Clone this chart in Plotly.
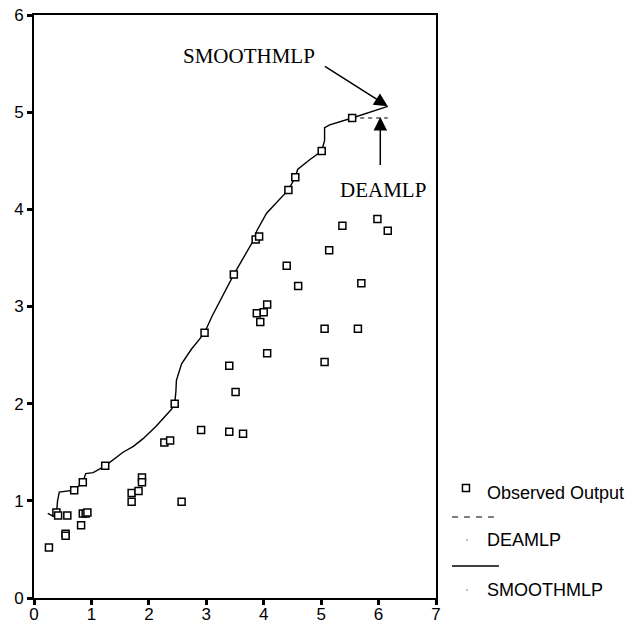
import plotly.graph_objects as go

# Observed output points
obs_x = [0.26, 0.39, 0.42, 0.58, 0.55, 0.55, 0.82, 0.85, 0.90, 0.93, 0.70, 0.85, 1.24,
         1.70, 1.70, 1.82, 1.88, 1.88, 2.27, 2.37, 2.45, 2.57, 2.91, 2.97, 3.40, 3.51,
         3.40, 3.64, 4.06, 3.88, 4.00, 3.94, 4.06, 5.06, 5.06, 5.64, 3.48, 3.86, 3.92,
         4.40, 4.60, 5.14, 5.37, 5.70, 5.98, 6.16, 4.43, 4.55, 5.01, 5.54]
obs_y = [0.52, 0.88, 0.85, 0.85, 0.66, 0.64, 0.75, 0.87, 0.87, 0.88, 1.11, 1.19, 1.36,
         1.08, 0.99, 1.10, 1.24, 1.19, 1.60, 1.62, 2.00, 0.99, 1.73, 2.73, 2.39, 2.12,
         1.71, 1.69, 2.52, 2.93, 2.94, 2.84, 3.02, 2.77, 2.43, 2.77, 3.33, 3.69, 3.72,
         3.42, 3.21, 3.58, 3.83, 3.24, 3.90, 3.78, 4.20, 4.33, 4.60, 4.94]

# SMOOTHMLP frontier
smooth_x = [0.24, 0.34, 0.39, 0.41, 0.44, 0.57, 0.70, 0.85, 0.90, 1.03, 1.24, 1.55, 1.73,
            1.90, 2.13, 2.39, 2.45, 2.47, 2.48, 2.57, 2.74, 2.89, 2.97, 3.10, 3.48, 3.84,
            3.88, 4.05, 4.43, 4.55, 4.59, 4.80, 5.01, 5.06, 5.06, 5.15, 5.54, 6.16]
smooth_y = [0.87, 0.84, 0.86, 1.00, 1.09, 1.10, 1.11, 1.19, 1.28, 1.29, 1.36, 1.50, 1.56,
            1.64, 1.77, 1.94, 2.00, 2.12, 2.24, 2.41, 2.56, 2.67, 2.73, 2.90, 3.33, 3.70,
            3.78, 3.96, 4.20, 4.33, 4.41, 4.51, 4.60, 4.71, 4.84, 4.87, 4.94, 5.06]

# DEAMLP frontier (visible end segment)
dea_x = [5.54, 6.16]
dea_y = [4.94, 4.94]

x_ticks = [0, 1, 2, 3, 4, 5, 6, 7]
y_ticks = [0, 1, 2, 3, 4, 5, 6]

fig = go.Figure()
fig.add_trace(go.Scatter(x=dea_x, y=dea_y, mode="lines",
                         line=dict(color="black", width=1.2, dash="4px,4px"),
                         name="DEAMLP", showlegend=False))
fig.add_trace(go.Scatter(x=smooth_x, y=smooth_y, mode="lines",
                         line=dict(color="black", width=1.4),
                         name="SMOOTHMLP", showlegend=False))
fig.add_trace(go.Scatter(x=obs_x, y=obs_y, mode="markers",
                         marker=dict(symbol="square", size=7, color="white",
                                     line=dict(color="black", width=1.5)),
                         name="Observed Output", showlegend=False))

axis_common = dict(showline=True, linecolor="black", linewidth=2, mirror=True,
                   ticks="outside", ticklen=5, tickwidth=3, tickcolor="black",
                   showgrid=False, zeroline=False, automargin=False,
                   tickfont=dict(family="Liberation Sans, Arial", size=17, color="black"))
fig.update_xaxes(range=[0, 7], tickvals=x_ticks, ticklabelstandoff=-5, **axis_common)
fig.update_yaxes(range=[0, 6], tickvals=y_ticks, **axis_common)

serif = dict(family="Liberation Serif, Times New Roman", size=21, color="black")
ann = [
    dict(x=3.74, y=5.58, xref="x", yref="y", text="SMOOTHMLP", showarrow=False, font=serif),
    dict(x=6.08, y=4.20, xref="x", yref="y", text="DEAMLP", showarrow=False, font=serif),
    dict(x=6.16, y=5.06, xref="x", yref="y", ax=5.04, ay=5.48, axref="x", ayref="y",
         text="", showarrow=True, arrowhead=2, arrowsize=1.8, arrowwidth=1.5, arrowcolor="black"),
    dict(x=6.03, y=4.95, xref="x", yref="y", ax=6.03, ay=4.44, axref="x", ayref="y",
         text="", showarrow=True, arrowhead=2, arrowsize=1.8, arrowwidth=1.5, arrowcolor="black"),
]

# Legend built manually (paper coordinates)
L, R, T, B = 33.5, 436.0, 15.0, 598.0
def px(p):
    return (p - L) / (R - L)
def py(p):
    return (B - p) / (B - T)

sans = dict(family="Liberation Sans, Arial", size=18, color="black")
for label, ypix in [("Observed Output", 493), ("DEAMLP", 540), ("SMOOTHMLP", 590)]:
    ann.append(dict(x=px(485), y=py(ypix), xref="paper", yref="paper", text=label,
                    showarrow=False, xanchor="left", yanchor="middle", font=sans))

shapes = [
    dict(type="rect", xref="paper", yref="paper", x0=px(462.5), x1=px(469.5),
         y0=py(491.5), y1=py(484.5), line=dict(color="black", width=1.5), fillcolor="white"),
    dict(type="line", xref="paper", yref="paper", x0=px(452), x1=px(499),
         y0=py(517), y1=py(517), line=dict(color="black", width=1.2, dash="6px,6px")),
    dict(type="line", xref="paper", yref="paper", x0=px(452), x1=px(499),
         y0=py(566), y1=py(566), line=dict(color="black", width=1.4)),
    dict(type="rect", xref="paper", yref="paper", x0=px(466.5), x1=px(467.5),
         y0=py(540.5), y1=py(539.5), line=dict(width=0), fillcolor="black"),
    dict(type="rect", xref="paper", yref="paper", x0=px(466.5), x1=px(467.5),
         y0=py(590.5), y1=py(589.5), line=dict(width=0), fillcolor="black"),
]

fig.update_layout(width=631, height=625, autosize=False,
                  margin=dict(l=L, r=631 - R, t=T, b=625 - B, pad=0, autoexpand=False),
                  paper_bgcolor="white", plot_bgcolor="white",
                  annotations=ann, shapes=shapes, showlegend=False)

fig.write_html("out.html")
